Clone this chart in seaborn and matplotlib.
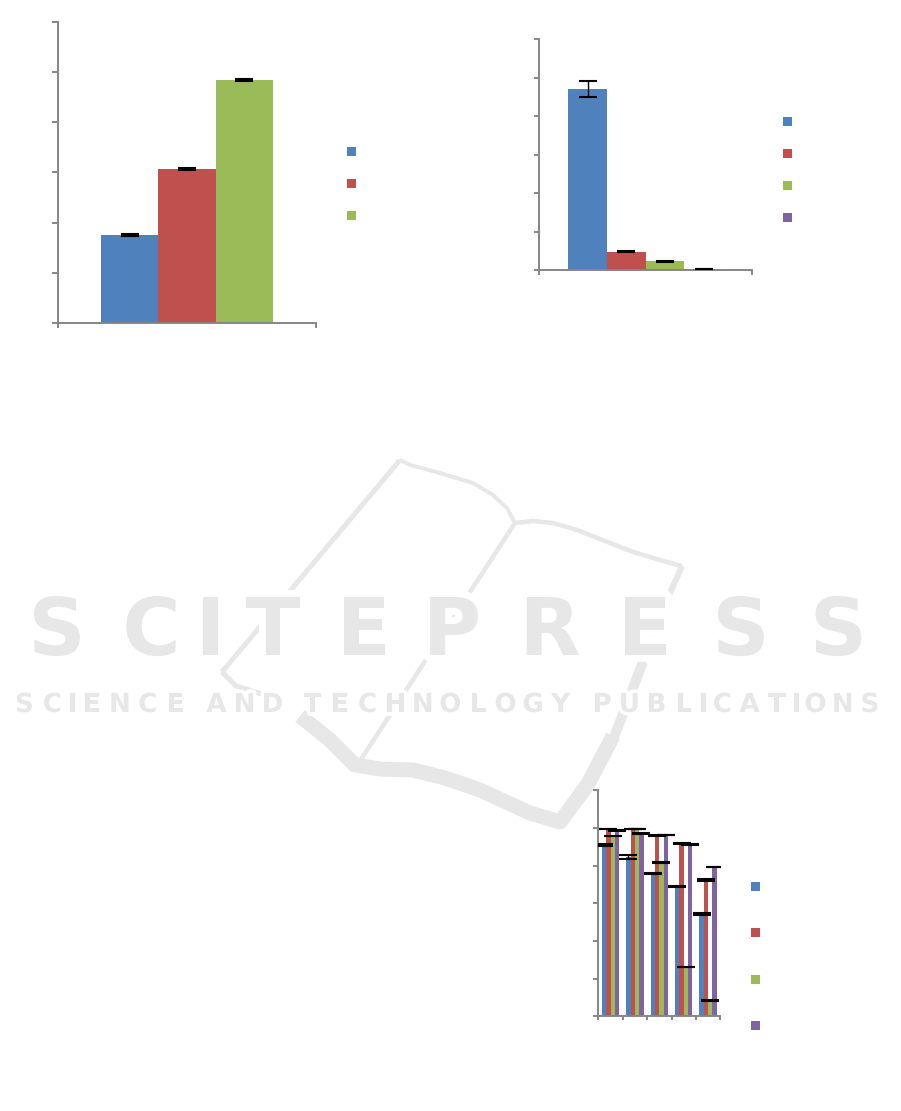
import numpy as np
import pandas as pd
import matplotlib
matplotlib.use("Agg")
import matplotlib.pyplot as plt
import matplotlib.patheffects as pe
from matplotlib.patches import Patch
import seaborn as sns

# ---------------- data ----------------
# Panel A: three treatments
a_series = ["T1", "T2", "T3"]
a_values = [1.75, 3.07, 4.85]
a_errors = [0.012, 0.012, 0.015]

# Panel B: four fractions
b_series = ["F1", "F2", "F3", "F4"]
b_values = [4.70, 0.47, 0.23, 0.025]
b_errors = [0.20, 0.015, 0.015, 0.005]

# Panel C: five conditions x four fractions
c_groups = ["C1", "C2", "C3", "C4", "C5"]
c_series = ["F1", "F2", "F3", "F4"]
c_f1 = [4.55, 4.23, 3.78, 3.45, 2.72]
c_f2 = [4.97, 4.97, 4.81, 4.58, 3.62]
c_f3 = [4.79, 4.97, 4.09, 1.31, 0.42]
c_f4 = [4.93, 4.85, 4.81, 4.57, 3.96]
c_f1_err = [0.027, 0.057, 0.015, 0.012, 0.035]
c_f2_err = [0.008, 0.008, 0.012, 0.008, 0.030]
c_f3_err = [0.008, 0.008, 0.012, 0.008, 0.008]
c_f4_err = [0.015, 0.008, 0.008, 0.012, 0.008]

y_ticks = [0, 1, 2, 3, 4, 5, 6]

mark_title = "SCITEPRESS"
mark_words = ["SCIENCE", "AND", "TECHNOLOGY", "PUBLICATIONS"]

palette = ["#4f81bd", "#c0504d", "#9bbb59", "#8064a2"]

# ---------------- layout ----------------
W, H = 901, 1111
AXIS_GREY = "#868686"
MARK_GREY = "#e6e7e6"

sns.set_theme(style="white")
plt.rcParams["font.family"] = ["DejaVu Sans"]

fig = plt.figure(figsize=(W / 100, H / 100), dpi=100)
fig.patch.set_facecolor("white")


def px_rect(x0, y0, x1, y1):
    return [x0 / W, 1 - y1 / H, (x1 - x0) / W, (y1 - y0) / H]


# ---------------- background mark ----------------
bg = fig.add_axes([0, 0, 1, 1], zorder=0)
bg.set_xlim(0, W)
bg.set_ylim(H, 0)
bg.axis("off")


def stroke(points, width_px):
    xs, ys = zip(*points)
    bg.plot(xs, ys, color=MARK_GREY, lw=width_px * 0.72,
            solid_capstyle="butt", solid_joinstyle="round", zorder=1)


# book outline
stroke([(222, 672), (400, 460)], 5)
stroke([(222, 672), (236, 686), (262, 694)], 5)
stroke([(400, 460), (410, 465), (440, 473), (473, 483), (493, 495),
        (507, 508), (515, 523)], 4)
stroke([(515, 523), (358, 764)], 4.5)
stroke([(515, 523), (533, 521), (553, 523), (577, 530), (600, 539),
        (633, 552), (660, 560), (682, 566)], 4.5)
stroke([(682, 566), (667, 600), (643, 662)], 6)
stroke([(643, 662), (613, 740)], 10)
stroke([(300, 716), (330, 740), (355, 765), (380, 769), (413, 770),
        (445, 778), (480, 790), (530, 813), (560, 822), (588, 784),
        (613, 736)], 15)

# title letters
title_boxes = [(17, 97), (113, 190), (203, 218), (228, 318), (325, 402),
               (412, 492), (505, 595), (603, 687), (697, 785), (797, 880)]
knock = [pe.withStroke(linewidth=10, foreground="white")]
for ch, (x0, x1) in zip(mark_title, title_boxes):
    bg.text((x0 + x1) / 2, 655, ch, ha="center", va="baseline",
            fontsize=57.3, fontweight="bold", color=MARK_GREY,
            path_effects=knock, zorder=2)

# subtitle letters, spread across each word's span
word_spans = [(13, 187), (205, 284), (301, 572), (591, 881)]


def letter_centres(word, x0, x1, gap=0.22):
    w = [0.3 if c == "I" else 1.0 for c in word]
    unit = (x1 - x0) / (sum(w) + gap * (len(word) - 1))
    out, pos = [], x0
    for wi in w:
        out.append(pos + wi * unit / 2)
        pos += (wi + gap) * unit
    return out


knock_small = [pe.withStroke(linewidth=5, foreground="white")]
for word, (x0, x1) in zip(mark_words, word_spans):
    for ch, xc in zip(word, letter_centres(word, x0, x1)):
        bg.text(xc, 712, ch, ha="center", va="baseline", fontsize=18.8,
                fontweight="bold", color=MARK_GREY,
                path_effects=knock_small, zorder=2)


# ---------------- panels ----------------
def draw_panel(rect, df, series, errs, width, ngroups, ytick_len, xtick_len):
    ax = fig.add_axes(rect, zorder=2)
    ax.set_facecolor("none")
    sns.barplot(data=df, x="group", y="value", hue="series",
                hue_order=series, palette=palette[:len(series)],
                width=width, errorbar=None, saturation=1, legend=False,
                linewidth=0, ax=ax)
    for cont, e in zip(ax.containers, errs):
        xs = [b.get_x() + b.get_width() / 2 for b in cont]
        ys = [b.get_height() for b in cont]
        ax.errorbar(xs, ys, yerr=e, fmt="none", ecolor="black",
                    elinewidth=1.0, capsize=6.6, capthick=1.5, zorder=4)
    ax.set_ylim(0, 6)
    ax.set_xlim(-0.5, ngroups - 0.5)
    ax.set_yticks(y_ticks)
    ax.set_xticks(np.arange(ngroups + 1) - 0.5)
    ax.tick_params(axis="y", direction="out", length=ytick_len, width=1.4,
                   color=AXIS_GREY, labelleft=False, left=True)
    ax.tick_params(axis="x", direction="out", length=xtick_len, width=1.4,
                   color=AXIS_GREY, labelbottom=False, bottom=True)
    ax.set_xlabel("")
    ax.set_ylabel("")
    ax.grid(False)
    for s in ["top", "right"]:
        ax.spines[s].set_visible(False)
    for s in ["left", "bottom"]:
        ax.spines[s].set_color(AXIS_GREY)
        ax.spines[s].set_linewidth(1.4)
    return ax


def add_key(ax, n, x_px, y_px, pitch_px, size_px=9.0):
    # square colour keys; each row is exactly one square high
    fsize = 5.0
    fpx = fsize * 100 / 72
    hh = (size_px / fpx - 0.245) / 0.65
    handles = [Patch(facecolor=c, edgecolor="none") for c in palette[:n]]
    ax.legend(handles, [""] * n, loc="upper left",
              bbox_to_anchor=(x_px / W, 1 - y_px / H),
              bbox_transform=fig.transFigure, frameon=False, fontsize=fsize,
              handlelength=size_px / fpx, handleheight=hh,
              handletextpad=0, borderpad=0, borderaxespad=0,
              labelspacing=(pitch_px - size_px) / fpx)


df_a = pd.DataFrame({"group": ["A"] * len(a_series), "series": a_series,
                     "value": a_values})
ax_a = draw_panel(px_rect(58, 22.3, 316, 322.7), df_a, a_series,
                  [[e] for e in a_errors], 0.667, 1, 4.3, 3.4)
add_key(ax_a, 3, 347, 147, 32)

df_b = pd.DataFrame({"group": ["B"] * len(b_series), "series": b_series,
                     "value": b_values})
ax_b = draw_panel(px_rect(539.3, 39, 752, 270), df_b, b_series,
                  [[e] for e in b_errors], 0.728, 1, 3.6, 3.4)
add_key(ax_b, 4, 783, 117, 32)

c_values = [c_f1, c_f2, c_f3, c_f4]
c_errs = [c_f1_err, c_f2_err, c_f3_err, c_f4_err]
df_c = pd.DataFrame({
    "group": [g for _ in c_series for g in c_groups],
    "series": [s for s in c_series for _ in c_groups],
    "value": [v for vals in c_values for v in vals],
})
ax_c = draw_panel(px_rect(598.3, 790.3, 720.3, 1016.3), df_c, c_series,
                  c_errs, 0.712, len(c_groups), 3.6, 3.1)
add_key(ax_c, 4, 751, 882, 46.3)

fig.savefig("out.png", dpi=100, facecolor="white")
